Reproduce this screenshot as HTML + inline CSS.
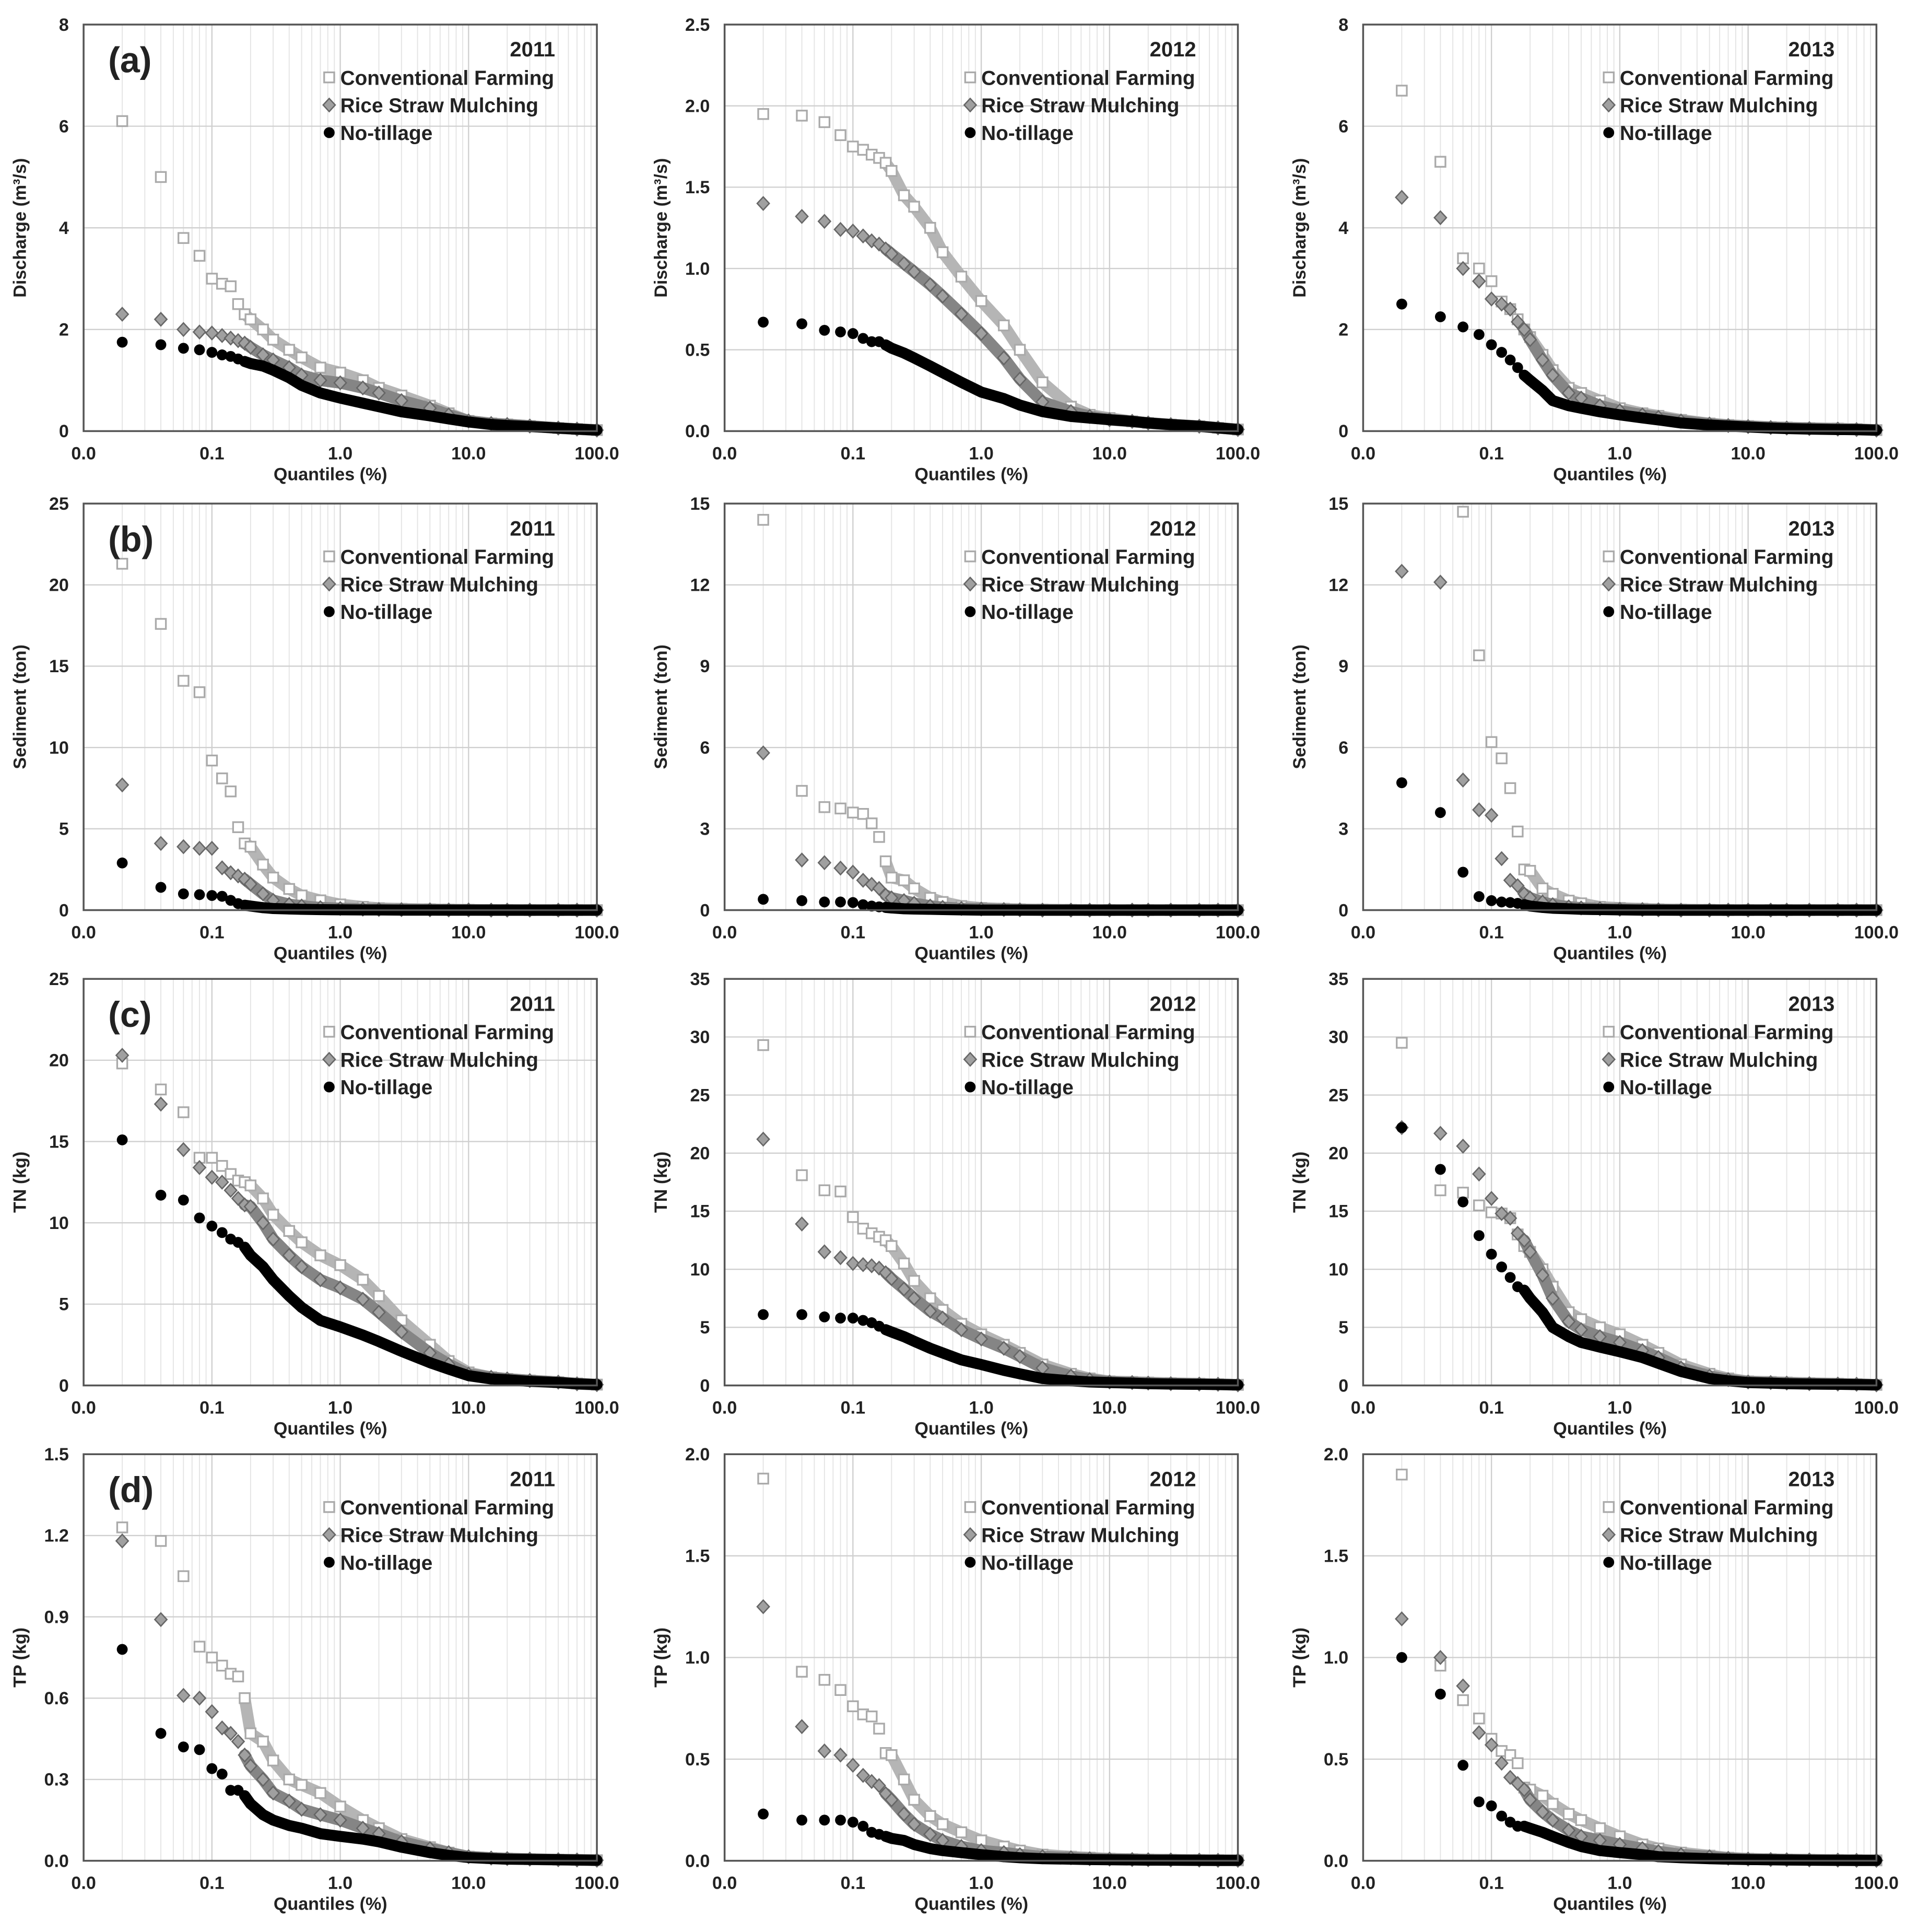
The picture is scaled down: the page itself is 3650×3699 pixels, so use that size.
<!DOCTYPE html>
<html><head><meta charset="utf-8"><style>
html,body{margin:0;padding:0;background:#fff}
svg{display:block}
text{font-family:"Liberation Sans",Arial,sans-serif;font-weight:bold;fill:#222}
</style></head><body>
<svg id="fig" xmlns="http://www.w3.org/2000/svg" width="3650" height="3699" viewBox="0 0 1552 1573"></svg>
<script>
const quantiles=[0.02,0.04,0.06,0.08,0.1,0.12,0.14,0.16,0.18,0.2,0.25,0.3,0.4,0.5,0.7,1,1.5,2,3,5,7,10,15,20,30,50,70,100];
const years=["2011","2012","2013"];
const seriesNames=["Conventional Farming","Rice Straw Mulching","No-tillage"];
const yTitles=["Discharge (m\u00B3/s)","Sediment (ton)","TN (kg)","TP (kg)"];
const panelLetters=["(a)","(b)","(c)","(d)"];
const yMaxes=[[8,2.5,8],[25,15,15],[25,35,35],[1.5,2,2]];
const yTickLabels=[
 [["0","2","4","6","8"],["0.0","0.5","1.0","1.5","2.0","2.5"],["0","2","4","6","8"]],
 [["0","5","10","15","20","25"],["0","3","6","9","12","15"],["0","3","6","9","12","15"]],
 [["0","5","10","15","20","25"],["0","5","10","15","20","25","30","35"],["0","5","10","15","20","25","30","35"]],
 [["0.0","0.3","0.6","0.9","1.2","1.5"],["0.0","0.5","1.0","1.5","2.0"],["0.0","0.5","1.0","1.5","2.0"]]
];
const xTickLabels=["0.0","0.1","1.0","10.0","100.0"];
// row a
const a11CF=[6.1,5.0,3.8,3.45,3.0,2.9,2.85,2.5,2.3,2.2,2.0,1.8,1.6,1.45,1.25,1.15,1.0,0.85,0.7,0.5,0.35,0.2,0.15,0.13,0.1,0.06,0.04,0.02];
const a11RSM=[2.3,2.2,2.0,1.95,1.93,1.88,1.83,1.78,1.73,1.65,1.5,1.4,1.25,1.1,1.0,0.95,0.85,0.75,0.6,0.45,0.32,0.2,0.15,0.13,0.1,0.06,0.04,0.02];
const a11NT=[1.75,1.7,1.63,1.6,1.55,1.5,1.47,1.42,1.37,1.33,1.28,1.2,1.05,0.9,0.75,0.65,0.55,0.48,0.38,0.3,0.24,0.18,0.13,0.11,0.09,0.06,0.04,0.02];
const a12CF=[1.95,1.94,1.9,1.82,1.75,1.73,1.7,1.68,1.65,1.6,1.45,1.38,1.25,1.1,0.95,0.8,0.65,0.5,0.3,0.15,0.1,0.08,0.06,0.05,0.04,0.03,0.02,0.01];
const a12RSM=[1.4,1.32,1.29,1.24,1.23,1.2,1.17,1.15,1.12,1.09,1.03,0.98,0.9,0.83,0.72,0.6,0.45,0.32,0.18,0.12,0.09,0.07,0.06,0.05,0.04,0.03,0.02,0.01];
const a12NT=[0.67,0.66,0.62,0.61,0.6,0.57,0.55,0.55,0.53,0.51,0.48,0.45,0.4,0.36,0.3,0.24,0.2,0.16,0.12,0.09,0.08,0.07,0.06,0.05,0.04,0.03,0.02,0.01];
const a13CF=[6.7,5.3,3.4,3.2,2.95,2.55,2.4,2.2,2.0,1.85,1.5,1.2,0.85,0.75,0.6,0.45,0.35,0.3,0.22,0.15,0.12,0.1,0.08,0.07,0.06,0.05,0.04,0.02];
const a13RSM=[4.6,4.2,3.2,2.95,2.6,2.5,2.4,2.15,2.0,1.8,1.4,1.1,0.75,0.65,0.5,0.4,0.32,0.27,0.2,0.14,0.11,0.09,0.07,0.06,0.05,0.04,0.03,0.02];
const a13NT=[2.5,2.25,2.05,1.9,1.7,1.55,1.4,1.25,1.1,1.0,0.8,0.6,0.5,0.45,0.38,0.32,0.26,0.22,0.16,0.12,0.1,0.08,0.06,0.05,0.04,0.03,0.03,0.02];
// row b
const b11CF=[21.3,17.6,14.1,13.4,9.2,8.1,7.3,5.1,4.1,3.9,2.8,2.0,1.3,0.9,0.6,0.35,0.2,0.12,0.08,0.05,0.03,0.02,0.01,0.01,0,0,0,0];
const b11RSM=[7.7,4.1,3.9,3.8,3.8,2.6,2.3,2.1,1.9,1.6,1.0,0.6,0.35,0.25,0.15,0.1,0.06,0.04,0.03,0.02,0.01,0.01,0,0,0,0,0,0];
const b11NT=[2.9,1.4,1.0,0.95,0.9,0.85,0.6,0.4,0.3,0.25,0.15,0.1,0.07,0.05,0.03,0.02,0.01,0.01,0,0,0,0,0,0,0,0,0,0];
const b12CF=[14.4,4.4,3.8,3.75,3.6,3.55,3.2,2.7,1.8,1.2,1.1,0.8,0.45,0.3,0.15,0.08,0.05,0.03,0.02,0.01,0,0,0,0,0,0,0,0];
const b12RSM=[5.8,1.85,1.75,1.55,1.4,1.1,0.95,0.8,0.55,0.45,0.35,0.25,0.15,0.1,0.06,0.04,0.02,0.01,0,0,0,0,0,0,0,0,0,0];
const b12NT=[0.4,0.35,0.3,0.3,0.28,0.2,0.15,0.12,0.1,0.08,0.05,0.04,0.03,0.02,0.01,0,0,0,0,0,0,0,0,0,0,0,0,0];
const b13CF=[18,16,14.7,9.4,6.2,5.6,4.5,2.9,1.5,1.45,0.8,0.6,0.35,0.25,0.12,0.08,0.05,0.03,0.02,0.01,0,0,0,0,0,0,0,0];
const b13RSM=[12.5,12.1,4.8,3.7,3.5,1.9,1.1,0.9,0.6,0.45,0.3,0.2,0.12,0.08,0.05,0.03,0.02,0.01,0,0,0,0,0,0,0,0,0,0];
const b13NT=[4.7,3.6,1.4,0.5,0.35,0.3,0.28,0.25,0.2,0.15,0.1,0.07,0.05,0.03,0.02,0.01,0,0,0,0,0,0,0,0,0,0,0,0];
// row c
const c11CF=[19.8,18.2,16.8,14.0,14.0,13.5,13.0,12.6,12.5,12.3,11.5,10.5,9.5,8.8,8.0,7.4,6.5,5.5,4.0,2.5,1.5,0.8,0.5,0.4,0.3,0.2,0.12,0.05];
const c11RSM=[20.3,17.3,14.5,13.4,12.8,12.5,12.0,11.5,11.1,11.0,10.0,9.0,8.0,7.3,6.5,6.0,5.3,4.5,3.3,2.0,1.3,0.7,0.5,0.4,0.3,0.2,0.1,0.05];
const c11NT=[15.1,11.7,11.4,10.3,9.8,9.4,9.0,8.8,8.5,8.0,7.3,6.5,5.5,4.8,4.0,3.6,3.1,2.7,2.1,1.4,1.0,0.6,0.4,0.35,0.25,0.18,0.1,0.05];
const c12CF=[29.3,18.1,16.8,16.7,14.5,13.5,13.1,12.8,12.5,12.0,10.5,9.0,7.5,6.5,5.3,4.4,3.5,2.8,1.8,1.0,0.6,0.35,0.3,0.25,0.2,0.15,0.1,0.05];
const c12RSM=[21.2,13.9,11.5,11.0,10.5,10.4,10.3,10.1,9.7,9.2,8.3,7.5,6.4,5.8,4.8,4.0,3.2,2.5,1.5,0.8,0.5,0.3,0.25,0.2,0.15,0.12,0.1,0.05];
const c12NT=[6.1,6.1,5.9,5.8,5.8,5.6,5.4,5.1,4.8,4.6,4.2,3.8,3.2,2.8,2.2,1.8,1.3,1.0,0.6,0.4,0.3,0.25,0.2,0.15,0.12,0.1,0.08,0.05];
const c13CF=[29.5,16.8,16.6,15.5,14.9,14.8,14.4,13.0,12.0,11.5,10.0,8.5,6.3,5.7,5.0,4.4,3.5,2.8,1.8,1.0,0.6,0.35,0.3,0.25,0.2,0.15,0.1,0.05];
const c13RSM=[22.2,21.7,20.6,18.2,16.1,14.8,14.4,13.1,12.5,11.5,9.5,7.5,5.5,4.8,4.2,3.7,3.0,2.4,1.5,0.8,0.5,0.3,0.25,0.2,0.15,0.12,0.1,0.05];
const c13NT=[22.2,18.6,15.8,12.9,11.3,10.2,9.3,8.5,8.2,7.5,6.3,5.0,4.2,3.7,3.3,2.9,2.4,1.9,1.2,0.6,0.4,0.25,0.2,0.15,0.12,0.1,0.08,0.05];
// row d
const d11CF=[1.23,1.18,1.05,0.79,0.75,0.72,0.69,0.68,0.6,0.47,0.44,0.37,0.3,0.28,0.25,0.2,0.15,0.12,0.08,0.05,0.03,0.015,0.01,0.008,0.006,0.004,0.003,0.002];
const d11RSM=[1.18,0.89,0.61,0.6,0.55,0.49,0.47,0.44,0.39,0.35,0.3,0.25,0.22,0.19,0.17,0.15,0.12,0.1,0.07,0.045,0.03,0.015,0.01,0.008,0.006,0.004,0.003,0.002];
const d11NT=[0.78,0.47,0.42,0.41,0.34,0.32,0.26,0.26,0.24,0.21,0.17,0.15,0.13,0.12,0.1,0.09,0.08,0.07,0.05,0.03,0.02,0.012,0.008,0.006,0.005,0.004,0.003,0.002];
const d12CF=[1.88,0.93,0.89,0.84,0.76,0.72,0.71,0.65,0.53,0.52,0.4,0.3,0.22,0.18,0.14,0.1,0.07,0.05,0.03,0.02,0.015,0.01,0.008,0.006,0.005,0.004,0.003,0.002];
const d12RSM=[1.25,0.66,0.54,0.52,0.47,0.42,0.39,0.37,0.33,0.3,0.23,0.18,0.13,0.1,0.07,0.05,0.04,0.03,0.02,0.015,0.01,0.008,0.006,0.005,0.004,0.003,0.002,0.002];
const d12NT=[0.23,0.2,0.2,0.2,0.19,0.17,0.14,0.13,0.12,0.11,0.1,0.08,0.06,0.05,0.04,0.03,0.02,0.015,0.01,0.008,0.006,0.005,0.004,0.003,0.003,0.002,0.002,0.002];
const d13CF=[1.9,0.96,0.79,0.7,0.6,0.54,0.52,0.48,0.36,0.35,0.32,0.28,0.23,0.2,0.16,0.12,0.08,0.06,0.04,0.025,0.015,0.01,0.008,0.006,0.005,0.004,0.003,0.002];
const d13RSM=[1.19,1.0,0.86,0.63,0.57,0.48,0.41,0.38,0.35,0.3,0.24,0.2,0.15,0.12,0.1,0.08,0.06,0.045,0.03,0.02,0.012,0.008,0.006,0.005,0.004,0.003,0.002,0.002];
const d13NT=[1.0,0.82,0.47,0.29,0.27,0.22,0.19,0.17,0.17,0.16,0.14,0.12,0.09,0.07,0.05,0.04,0.03,0.02,0.015,0.01,0.008,0.006,0.005,0.004,0.003,0.002,0.002,0.002];

const panelData=[
 [[a11CF,a11RSM,a11NT],[a12CF,a12RSM,a12NT],[a13CF,a13RSM,a13NT]],
 [[b11CF,b11RSM,b11NT],[b12CF,b12RSM,b12NT],[b13CF,b13RSM,b13NT]],
 [[c11CF,c11RSM,c11NT],[c12CF,c12RSM,c12NT],[c13CF,c13RSM,c13NT]],
 [[d11CF,d11RSM,d11NT],[d12CF,d12RSM,d12NT],[d13CF,d13RSM,d13NT]]
];

const NS="http://www.w3.org/2000/svg";
const svg=document.getElementById('fig');
function mk(tag,attrs,parent,txt){const e=document.createElementNS(NS,tag);for(const k in attrs)e.setAttribute(k,attrs[k]);if(txt!==undefined)e.textContent=txt;(parent||svg).appendChild(e);return e;}
const colL=[68,590,1110], W=418, rowT=[20,410,797,1184], H=331;
const MS=4.1;
function drawMarker(g,k,x,y){
  let m;
  if(k===0){m=mk('rect',{x:x-MS,y:y-MS,width:2*MS,height:2*MS,fill:'#fff',stroke:'#aaa','stroke-width':1.4},g);}
  else if(k===1){m=mk('path',{d:`M${x} ${y-MS*1.3}L${x+MS*1.2} ${y}L${x} ${y+MS*1.3}L${x-MS*1.2} ${y}Z`,fill:'#a0a0a0',stroke:'#666','stroke-width':1.1},g);}
  else {m=mk('circle',{cx:x,cy:y,r:MS*1.08,fill:'#000'},g);}
  return m;
}
for(let r=0;r<4;r++){for(let c=0;c<3;c++){
  const L=colL[c],T=rowT[r],B=T+H,R=L+W,ymax=yMaxes[r][c];
  const xS=q=>L+(Math.log10(q)+2)/4*W;
  const yS=v=>B-v/ymax*H;
  const g=mk('g',{});
  
  
  const cid='clip'+r+c;
  const cp=mk('clipPath',{id:cid},g);mk('rect',{x:L,y:T-6,width:W+8,height:H+12},cp);
  for(let d=-2;d<2;d++){for(let m=1;m<=9;m++){const q=m*Math.pow(10,d);const x=xS(q);
    mk('line',{x1:x,y1:T,x2:x,y2:B,stroke:m===1?'#cfcfcf':'#e4e4e4','stroke-width':m===1?1:0.8},g);}}
  const tl=yTickLabels[r][c];
  tl.forEach((lab,i)=>{const v=ymax*i/(tl.length-1);const y=yS(v);
    if(i>0)mk('line',{x1:L,y1:y,x2:R,y2:y,stroke:'#cfcfcf','stroke-width':1},g);
    const t=mk('text',{x:L-12,y:y+5,'font-size':14.5,'text-anchor':'end'},g,lab);
    });
  xTickLabels.forEach((lab,i)=>{const t=mk('text',{x:L+i*W/4,y:B+23,'font-size':14.5,'text-anchor':'middle'},g,lab);
    });
  const xt=mk('text',{x:L+W/2-8,y:B+40,'font-size':14.5,'text-anchor':'middle'},g,'Quantiles (%)');
  
  const yt=mk('text',{x:0,y:0,'font-size':14.5,'text-anchor':'middle',transform:`translate(${L-47},${T+H/2}) rotate(-90)`},g,yTitles[r]);
  
  const sg=mk('g',{'clip-path':`url(#${cid})`},g);
  const bandCol=['#b5b5b5','#858585','#000'];
  panelData[r][c].forEach((vals,k)=>{
    let pts=[];quantiles.forEach((q,i)=>{if(q>=0.18)pts.push(xS(q)+','+yS(vals[i]));});
    const band=mk('polyline',{points:pts.join(' '),fill:'none',stroke:bandCol[k],'stroke-width':k===2?9:9.5,'stroke-linejoin':'round','stroke-linecap':'round'},sg);
    
    quantiles.forEach((q,i)=>{const m=drawMarker(sg,k,xS(q),yS(vals[i]));
      });
  });
  const fr=mk('rect',{x:L,y:T,width:W,height:H,fill:'none',stroke:'#555','stroke-width':1.5},g);
  
  const yr=mk('text',{x:R-34,y:T+26,'font-size':17,'text-anchor':'end'},g,years[c]);
  
  seriesNames.forEach((nm,k)=>{const y=T+43+k*22.5;
    const m=drawMarker(g,k,L+200,y);
    const t=mk('text',{x:L+209,y:y+6,'font-size':16.5},g,nm);
    });
  if(c===0){const p=mk('text',{x:L+20,y:T+39,'font-size':29},g,panelLetters[r]);
    }
}}
</script>
</body></html>
